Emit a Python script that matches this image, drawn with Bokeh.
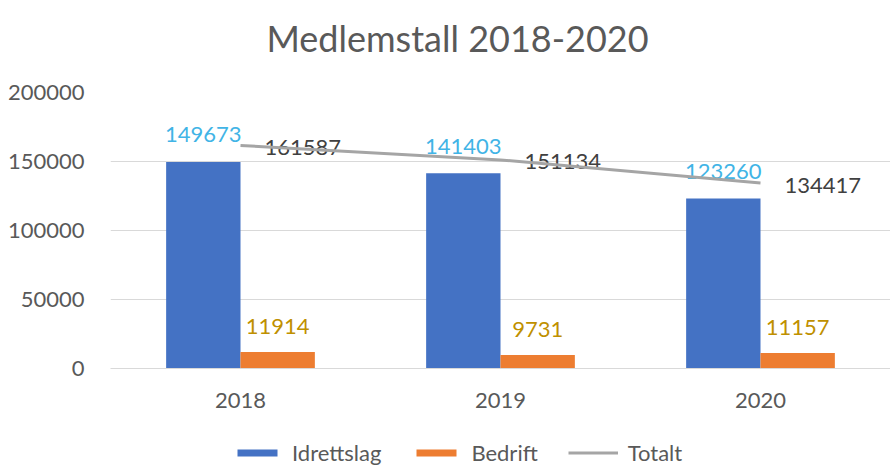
from bokeh.plotting import figure
from bokeh.layouts import column
from bokeh.models import ColumnDataSource, LabelSet, Label, Legend, LegendItem, FactorRange
from bokeh.core.properties import value
from bokeh.transform import dodge
from bokeh.embed import file_html
from bokeh.resources import INLINE

years = ["2018", "2019", "2020"]
idrettslag = [149673, 141403, 123260]
bedrift = [11914, 9731, 11157]
totalt = [161587, 151134, 134417]
y_ticks = [0, 50000, 100000, 150000, 200000]

FONT = "Lato"
C_IDR, C_BED, C_TOT = "#4472C4", "#ED7D31", "#A5A5A5"
NAN = float("nan")

src = ColumnDataSource(dict(
    year=years, idr=idrettslag, bed=bedrift, tot=totalt,
    idr_t=[str(v) for v in idrettslag],
    bed_t=[str(v) for v in bedrift],
    tot_t=[str(v) for v in totalt],
))

# ---- title strip (frame aligned with main frame: x 110..890 px) ----
p0 = figure(width=890, height=72, x_range=(110, 890), y_range=(0, 72),
            x_axis_type=None, y_axis_type=None, min_border=0,
            output_backend="svg", toolbar_location=None)
p0.grid.visible = False
p0.outline_line_color = None
p0.add_layout(Label(x=457, y=35, text="Medlemstall 2018-2020", text_align="center",
                    text_baseline="middle", text_font=FONT, text_font_size="36px",
                    text_color="#595959"))

# ---- main chart ----
p = figure(frame_width=780, frame_height=276, x_range=FactorRange(*years, range_padding=0),
           y_range=(0, 200000), output_backend="svg", toolbar_location=None,
           min_border_left=110, min_border_right=0, min_border_top=20,
           min_border_bottom=62)
p.title = None
p.outline_line_color = None

hw = 0.143
w = 0.286
p.vbar(x=dodge("year", -hw, range=p.x_range), top="idr", width=w, source=src,
       fill_color=C_IDR, line_color=None)
p.vbar(x=dodge("year", hw, range=p.x_range), top="bed", width=w, source=src,
       fill_color=C_BED, line_color=None)
p.line(x="year", y="tot", source=src, line_color=C_TOT, line_width=3, level="overlay")

common = dict(source=src, text_font=value(FONT), text_font_size="22px")
p.add_layout(LabelSet(x=dodge("year", -hw, range=p.x_range), y="idr", text="idr_t",
                      text_align="center", text_baseline="middle", y_offset=27,
                      text_color="#41B4E6", **common))
p.add_layout(LabelSet(x=dodge("year", hw, range=p.x_range), y="bed", text="bed_t",
                      text_align="center", text_baseline="middle", y_offset=26,
                      text_color="#BF9000", **common))
p.add_layout(LabelSet(x="year", y="tot", text="tot_t",
                      text_align="left", text_baseline="middle", x_offset=24, y_offset=-2,
                      text_color="#404040", **common))

p.yaxis.ticker = y_ticks
p.yaxis.axis_line_color = None
p.yaxis.major_tick_line_color = None
p.yaxis.minor_tick_line_color = None
p.yaxis.major_label_text_font = FONT
p.yaxis.major_label_text_font_size = "22px"
p.yaxis.major_label_text_color = "#595959"
p.yaxis.major_label_standoff = 20
p.yaxis.formatter.use_scientific = False

p.xaxis.axis_line_color = "#D9D9D9"
p.xaxis.major_tick_line_color = None
p.xaxis.minor_tick_line_color = None
p.xaxis.major_label_text_font = FONT
p.xaxis.major_label_text_font_size = "22px"
p.xaxis.major_label_text_color = "#595959"
p.xaxis.major_label_standoff = 18

p.xgrid.grid_line_color = None
p.ygrid.grid_line_color = "#D9D9D9"
p.ygrid.grid_line_width = 1

# ---- legend strip (legend proxies carry no visible data) ----
p2 = figure(width=890, height=40, x_range=(110, 890), y_range=(0, 40),
            x_axis_type=None, y_axis_type=None, min_border=0,
            output_backend="svg", toolbar_location=None)
p2.grid.visible = False
p2.outline_line_color = None
g1 = p2.vbar(x=[NAN], top=[NAN], width=1, fill_color=C_IDR, line_color=None)
g2 = p2.vbar(x=[NAN], top=[NAN], width=1, fill_color=C_BED, line_color=None)
g3 = p2.line(x=[NAN, NAN], y=[NAN, NAN], line_color=C_TOT, line_width=3)
legend = Legend(items=[
    LegendItem(label="Idrettslag", renderers=[g1]),
    LegendItem(label="Bedrift", renderers=[g2]),
    LegendItem(label="Totalt", renderers=[g3]),
], orientation="horizontal", location=(122, 4), border_line_color=None,
   label_text_font=FONT, label_text_font_size="22px", label_text_color="#595959",
   glyph_width=50, glyph_height=9, label_standoff=10, spacing=30,
   padding=0, margin=0, label_height=20, background_fill_alpha=0)
p2.add_layout(legend)

layout = column(p0, p, p2, spacing=0)
open("out.html", "w").write(file_html(layout, INLINE))
